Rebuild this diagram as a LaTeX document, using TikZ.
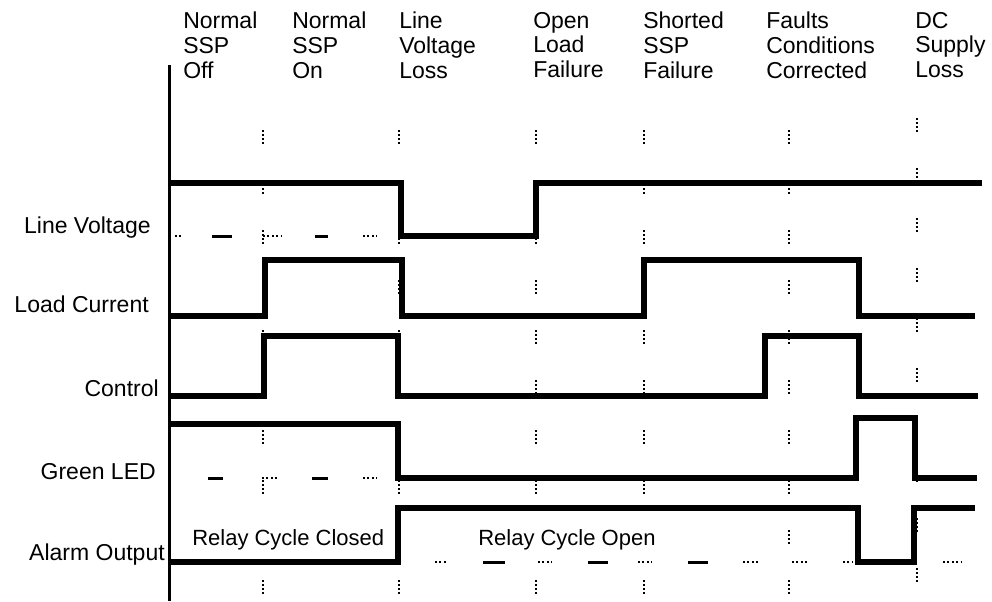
\documentclass[tikz,border=0pt]{standalone}
\usepackage{fontspec}
\setmainfont{Liberation Sans}
\begin{document}
\begin{tikzpicture}[x=0.75pt, y=-0.75pt,
      font=\fontsize{17.25}{18.4}\selectfont,
      head/.style={anchor=north west, align=left, inner sep=0pt},
      sig/.style={anchor=base east, inner sep=0pt},
      relay/.style={anchor=base west, inner sep=0pt, fill=white, font=\fontsize{16.5}{18}\selectfont},
      wave/.style={line width=4.5pt, line join=miter},
      guide/.style={line width=2pt, dash pattern=on 1.5pt off 1.5pt on 1.5pt off 1.5pt on 1.5pt off 1.5pt on 1.5pt off 27pt},
      dashmark/.style={line width=2.25pt},
      dotmark/.style={line width=2pt, dash pattern=on 1.5pt off 1.8pt}]
    \useasboundingbox (0,0) rectangle (992,601);
    \foreach \x in {263,399,536,644,789}
      \draw[guide] (\x,130) -- (\x,601);
    \draw[guide] (917,118) -- (917,601);
    \foreach \a/\b in {175/182,263/282,363/377} \draw[dotmark] (\a,236) -- (\b,236);
    \foreach \a/\b in {212/232,315/328} \draw[dashmark] (\a,236) -- (\b,236);
    \foreach \a/\b in {262/277,363/377} \draw[dotmark] (\a,478) -- (\b,478);
    \foreach \a/\b in {208/223,312/328} \draw[dashmark] (\a,478) -- (\b,478);
    \foreach \a/\b in {435/448,538/552,638/652,743/758,792/807,843/853,943/962} \draw[dotmark] (\a,562) -- (\b,562);
    \foreach \a/\b in {483/505,588/608,688/708} \draw[dashmark] (\a,562) -- (\b,562);
    \draw[wave] (169,183) -- (401,183) -- (401,236) -- (536,236) -- (536,183) -- (982,183);
    \draw[wave] (169,316) -- (265,316) -- (265,260) -- (402,260) -- (402,316) -- (644,316) -- (644,260) -- (859,260) -- (859,316) -- (975,316);
    \draw[wave] (169,396) -- (264,396) -- (264,336) -- (398,336) -- (398,396) -- (765,396) -- (765,336) -- (859,336) -- (859,396) -- (978,396);
    \draw[wave] (169,424) -- (398,424) -- (398,478) -- (856,478) -- (856,418) -- (915,418) -- (915,478) -- (977,478);
    \draw[wave] (169,562) -- (398,562) -- (398,508) -- (858,508) -- (858,562) -- (914,562) -- (914,508) -- (975,508);
    \draw[line width=2.25pt] (169,65) -- (169,601);
    \node[head] (off) at (183,12) {Normal\\SSP\\Off};
    \node[head] (on) at (292,12) {Normal\\SSP\\On};
    \node[head] (lvl) at (399,12) {Line\\Voltage\\Loss};
    \node[head] (olf) at (533,12) {Open\\Load\\Failure};
    \node[head] (ssf) at (643,12) {Shorted\\SSP\\Failure};
    \node[head] (fcc) at (766,12) {Faults\\Conditions\\Corrected};
    \node[head] (dcl) at (915,12) {DC\\Supply\\Loss};
    \node[sig] (lv) at (151,233) {Line Voltage};
    \node[sig] (lc) at (149,312) {Load Current};
    \node[sig] (ctl) at (159,396) {Control};
    \node[sig] (led) at (156,479) {Green LED};
    \node[sig] (alarm) at (165,560) {Alarm Output};
    \node[relay] (closed) at (192,545) {Relay Cycle Closed};
    \node[relay] (open) at (478,545) {Relay Cycle Open};
  \end{tikzpicture}
\end{document}
